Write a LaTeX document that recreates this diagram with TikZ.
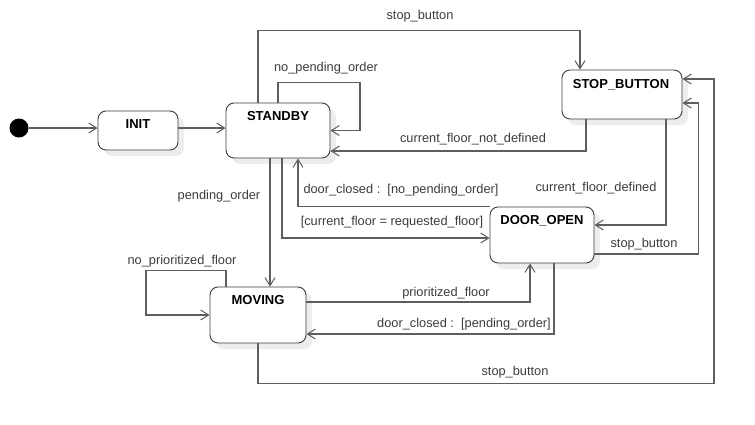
\documentclass[tikz,border=0pt]{standalone}
\usepackage{fontspec}
\setmainfont{Liberation Sans}
\usetikzlibrary{arrows.meta,shadows}
\definecolor{linegray}{HTML}{5E5E5E}
\definecolor{boxline}{HTML}{3A3A3A}
\definecolor{txtgray}{HTML}{3C3C3C}
\begin{document}
\begin{tikzpicture}[x=1pt,y=-1pt,
  statebox/.style={draw=boxline,line width=0.9pt,rounded corners=8pt,fill=white,inner sep=0pt,
    drop shadow={shadow xshift=6pt,shadow yshift=-6pt,fill=black!7,opacity=1}},
  statename/.style={font=\fontsize{13}{15}\selectfont\bfseries,text=black,inner sep=0pt,text height=9.3pt,text depth=0pt},
  tlabel/.style={font=\fontsize{12.8}{15}\selectfont,text=txtgray,inner sep=0pt,text height=9.2pt,text depth=2.7pt},
  tr/.style={draw=linegray,line width=1.1pt,-{Straight Barb[length=8pt,width=10pt,line width=1pt]}}]
\useasboundingbox (0,0) rectangle (755,424);

% states
\node[circle,fill=black,minimum size=19pt,inner sep=0pt] (dot) at (19,128) {};
\node[statebox,minimum width=80pt,minimum height=39pt] (init) at (138,130.5) {};
\node[statebox,minimum width=104pt,minimum height=55pt] (standby) at (278,130.5) {};
\node[statebox,minimum width=120pt,minimum height=49pt] (stopb) at (622,94.5) {};
\node[statebox,minimum width=104pt,minimum height=56pt] (door) at (542,235) {};
\node[statebox,minimum width=96pt,minimum height=56pt] (moving) at (258,315) {};

\node[statename,anchor=base] (initT) at (138,128) {INIT};
\node[statename,anchor=base] (standbyT) at (278,120) {STANDBY};
\node[statename,anchor=base] (stopbT) at (621,88) {STOP\_BUTTON};
\node[statename,anchor=base] (doorT) at (542,224) {DOOR\_OPEN};
\node[statename,anchor=base] (movingT) at (258,304) {MOVING};

% transitions
\draw[tr] (dot.east) -- (dot.east -| init.west);
\draw[tr] (dot -| init.east) -- (dot -| standby.west);
\draw[tr] ([xshift=-20pt]standby.north) -- ++(0,-72) -| ([xshift=-42pt]stopb.north);
\draw[tr] (standby.north) -- ++(0,-20) -- ++(82,0) |- (standby.east);
\draw[tr] ([xshift=-36pt]stopb.south) |- ([yshift=-20.5pt]standby.east);
\draw[tr] ([xshift=44pt]stopb.south) |- ([yshift=10pt]door.east);
\draw[tr] ([yshift=-19pt]door.east) -- ++(104,0) |- ([yshift=-8.5pt]stopb.east);
\draw[tr] (moving.south) -- ++(0,40) -- ++(456,0) |- ([yshift=15.5pt]stopb.east);
\draw[tr] ([xshift=-8pt]standby.south) -- ([xshift=-8pt]standby.south |- moving.north);
\draw[tr] ([xshift=4pt]standby.south) |- ([yshift=-3pt]door.west);
\draw[tr] (door.north west) -| ([xshift=20pt]standby.south);
\draw[tr] ([yshift=13pt]moving.east) -| ([xshift=-12pt]door.south);
\draw[tr] ([xshift=12pt]door.south) |- ([yshift=-19pt]moving.east);
\draw[tr] ([xshift=-32pt]moving.north) -- ++(0,-16) -- ++(-80,0) |- (moving.west);

% labels
\node[tlabel] (l1) at (420,16) {stop\_button};
\node[tlabel] (l2) at (326,68) {no\_pending\_order};
\node[tlabel] (l3) at (473,139) {current\_floor\_not\_defined};
\node[tlabel] (l4) at (596,188) {current\_floor\_defined};
\node[tlabel] (l5) at (644,244) {stop\_button};
\node[tlabel] (l6) at (401,190) {door\_closed :\ \ [no\_pending\_order]};
\node[tlabel] (l7) at (392,222) {[current\_floor = requested\_floor]};
\node[tlabel] (l8) at (219,196) {pending\_order};
\node[tlabel] (l9) at (182,261) {no\_prioritized\_floor};
\node[tlabel] (l10) at (446,293) {prioritized\_floor};
\node[tlabel] (l11) at (464,324) {door\_closed :\ \ [pending\_order]};
\node[tlabel] (l12) at (515,372) {stop\_button};
\end{tikzpicture}
\end{document}
